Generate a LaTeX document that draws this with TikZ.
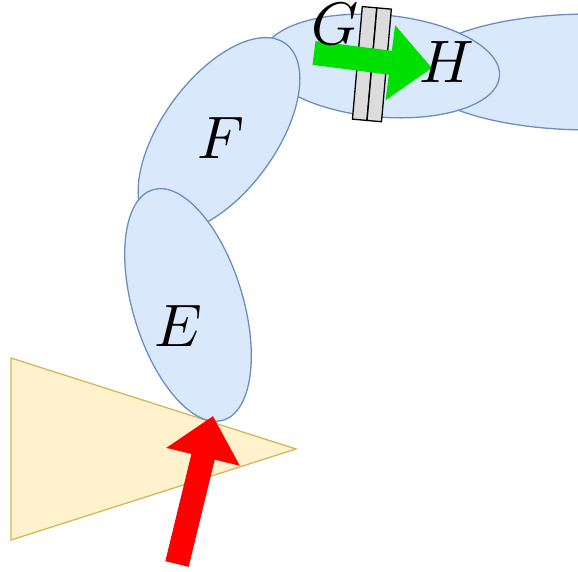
\documentclass[tikz,border=0pt]{standalone}
\usetikzlibrary{shapes.geometric,arrows.meta}
\definecolor{bfill}{HTML}{DAE8FC}
\definecolor{bline}{HTML}{6C8EBF}
\definecolor{yfill}{HTML}{FFF2CC}
\definecolor{yline}{HTML}{D6B656}
\definecolor{gfill}{RGB}{220,220,220}
\definecolor{arrgreen}{RGB}{0,224,0}
\definecolor{arrred}{RGB}{255,0,0}
\begin{document}
\begin{tikzpicture}[x=1pt,y=-1pt,
  blob/.style={ellipse, draw=bline, fill=bfill, line width=1.3pt, inner sep=0pt, outer sep=0pt},
  lbl/.style={scale=6, inner sep=0pt},
  bar/.style={rectangle, draw=black, fill=gfill, line width=1.3pt, minimum width=14.5pt, minimum height=113pt, inner sep=0pt, outer sep=0pt, rotate=-5},
  fat/.style={line width=24pt, line cap=butt, -{Triangle[width=73pt,length=42pt]}}]
\useasboundingbox (0,0) rectangle (578,572);
\clip (0,0) rectangle (578,572);
% triangle
\draw[fill=yfill, draw=yline, line width=1.3pt] (11,358) -- (11,540) -- (296,449) -- cycle;
% ellipses
\node[blob, minimum width=350pt, minimum height=116pt] (ellH) at (590,72) {};
\node[blob, minimum width=238pt, minimum height=102pt, rotate=-5] (ellG) at (381,66) {};
\node[blob, minimum width=114pt, minimum height=226pt, rotate=-36] (ellF) at (219,135) {};
\node[blob, minimum width=110pt, minimum height=241pt, rotate=17] (ellE) at (188,305) {};
% bars
\node[bar] (bar1) at (364.6,63.5) {};
\node[bar] (bar2) at (379.2,64.8) {};
% arrows
\coordinate (gtail) at (314,53);
\coordinate (gtip) at (432,68);
\draw[fat, draw=arrgreen, fill=arrgreen] (gtail) -- (gtip);
% labels
\node[lbl] (labE) at (178,326) {$E$};
\node[lbl] (labF) at (221,138) {$F$};
\node[lbl] (labG) at (335,24) {$G$};
\node[lbl] (labH) at (447,62) {$H$};
% red arrow
\coordinate (rtail) at (177,564);
\coordinate (rtip) at (213,416);
\draw[fat, draw=arrred, fill=arrred] (rtail) -- (rtip);
\end{tikzpicture}
\end{document}
